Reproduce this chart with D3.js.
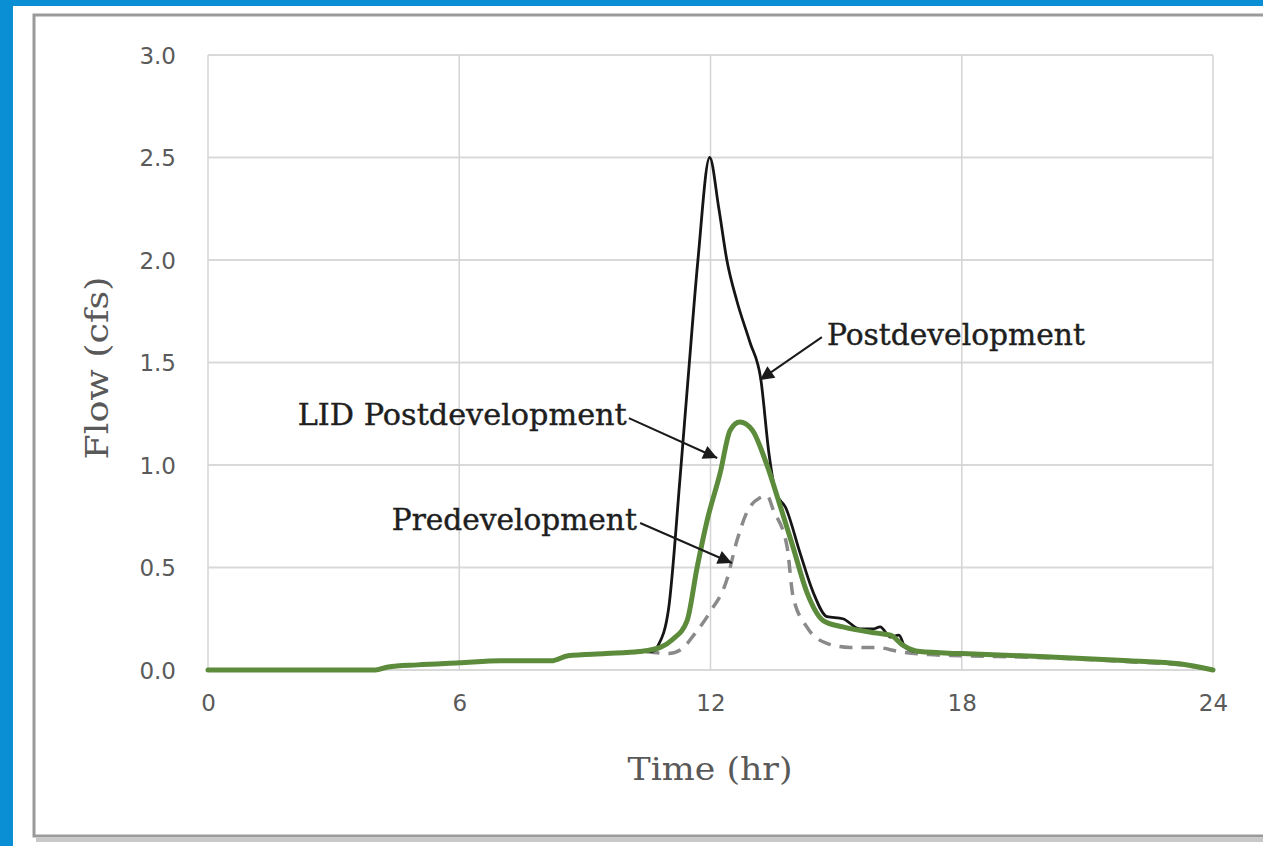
<!DOCTYPE html>
<html>
<head>
<meta charset="utf-8">
<script src="https://cdn.jsdelivr.net/npm/d3@7"></script>
<style>
  html, body { margin: 0; padding: 0; background: #0a8fd5; }
  svg { display: block; }
</style>
</head>
<body>
<svg id="chart" width="1263" height="846"></svg>
<script>
// hydrograph values (hours, cfs)
const baseline = [
  [0, 0.0], [4.0, 0.0], [4.3, 0.015], [5.0, 0.025], [6.0, 0.035], [7.0, 0.045],
  [8.2, 0.045], [8.6, 0.07], [9.5, 0.08], [10.3, 0.09],
];

const postdevelopment = baseline.concat([
  [10.6, 0.09], [10.75, 0.12], [11.0, 0.3], [11.27, 0.93], [11.46, 1.41], [11.7, 2.0],
  [11.98, 2.5], [12.2, 2.25], [12.39, 2.0], [12.63, 1.8], [12.94, 1.6], [13.2, 1.42],
  [13.4, 1.05], [13.55, 0.87], [13.8, 0.79], [14.14, 0.57], [14.45, 0.38], [14.78, 0.26],
  [15.16, 0.25], [15.57, 0.2], [15.88, 0.2], [16.05, 0.21], [16.3, 0.16], [16.5, 0.17],
  [16.65, 0.11], [16.9, 0.09], [18.0, 0.08], [20.0, 0.065], [22.0, 0.045], [23.2, 0.03],
  [24.0, 0.0],
]);

const lidPostdevelopment = baseline.concat([
  [10.8, 0.11], [11.1, 0.15], [11.44, 0.24], [11.68, 0.5], [11.92, 0.73], [12.23, 0.96],
  [12.47, 1.17], [12.7, 1.21], [13.0, 1.17], [13.33, 1.01], [13.65, 0.81], [13.97, 0.6],
  [14.3, 0.38], [14.7, 0.24], [15.16, 0.21], [15.97, 0.18], [16.3, 0.17], [16.6, 0.12],
  [17.0, 0.09], [18.0, 0.08], [20.0, 0.065], [22.0, 0.045], [23.2, 0.03], [24.0, 0.0],
]);

const predevelopment = baseline.concat([
  [11.0, 0.08], [11.3, 0.1], [11.6, 0.17], [11.98, 0.28], [12.39, 0.44], [12.63, 0.63],
  [12.87, 0.77], [13.18, 0.84], [13.35, 0.85], [13.5, 0.78], [13.83, 0.6], [13.97, 0.36],
  [14.3, 0.21], [14.78, 0.13], [15.33, 0.11], [15.97, 0.11], [16.5, 0.09], [17.2, 0.075],
  [18.0, 0.07], [20.0, 0.06], [22.0, 0.04], [23.2, 0.025], [24.0, 0.0],
]);

const xTicks = [0, 6, 12, 18, 24];
const yTicks = [0, 0.5, 1.0, 1.5, 2.0, 2.5, 3.0];

// callouts: label text, where the label sits, where the arrow goes (data units)
const callouts = [
  { text: 'Postdevelopment', anchor: 'start', at: [14.78, 1.585], from: [14.66, 1.624], to: [13.18, 1.415], width: 258 },
  { text: 'LID Postdevelopment', anchor: 'end', at: [10.0, 1.195], from: [10.05, 1.229], to: [12.16, 1.034], width: 329 },
  { text: 'Predevelopment', anchor: 'end', at: [10.24, 0.683], from: [10.32, 0.717], to: [12.51, 0.522], width: 245 },
];

const svg = d3.select('#chart');

// frame: blue page, white card, grey bordered panel
svg.append('rect').attr('width', 1263).attr('height', 846).attr('fill', '#0a8fd5');
svg.append('rect').attr('x', 13).attr('y', 6).attr('width', 1250).attr('height', 840).attr('fill', '#ffffff');
svg.append('rect').attr('x', 36).attr('y', 838).attr('width', 1240).attr('height', 4)
  .attr('fill', '#c8c8c8');
svg.append('rect').attr('x', 34).attr('y', 15).attr('width', 1240).attr('height', 821)
  .attr('fill', '#ffffff').attr('stroke', '#9a9a9a').attr('stroke-width', 3);

const x = d3.scaleLinear().domain([0, 24]).range([208, 1213]);
const y = d3.scaleLinear().domain([0, 3]).range([670, 55]);

const grid = svg.append('g').attr('class', 'grid');
grid.selectAll('line.h')
  .data(yTicks)
  .enter()
  .append('line')
  .attr('class', 'h')
  .attr('x1', x(0)).attr('x2', x(24))
  .attr('y1', d => y(d)).attr('y2', d => y(d))
  .attr('stroke', '#d9d9d9').attr('stroke-width', 2);
grid.selectAll('line.v')
  .data(xTicks)
  .enter()
  .append('line')
  .attr('class', 'v')
  .attr('y1', y(0)).attr('y2', y(3))
  .attr('x1', d => x(d)).attr('x2', d => x(d))
  .attr('stroke', '#d4d4d4').attr('stroke-width', 1.5);

// axes: just the labels, the grid draws the lines
const yAxis = svg.append('g')
  .attr('transform', `translate(${x(0)},0)`)
  .call(d3.axisLeft(y).tickValues(yTicks).tickFormat(d3.format('.1f')).tickSize(0).tickPadding(32));
const xAxis = svg.append('g')
  .attr('transform', `translate(0,${y(0)})`)
  .call(d3.axisBottom(x).tickValues(xTicks).tickSize(0).tickPadding(35));
[yAxis, xAxis].forEach((a) => {
  a.select('.domain').remove();
  a.selectAll('text')
    .attr('fill', '#5a5a5a')
    .style('font-family', '"DejaVu Sans", sans-serif')
    .style('font-size', '23px');
});
yAxis.selectAll('text').attr('dy', '0.36em');
xAxis.selectAll('text').attr('dy', '0.25em');

const line = d3.line()
  .x(d => x(d[0]))
  .y(d => y(d[1]))
  .curve(d3.curveMonotoneX);

const plot = svg.append('g').attr('fill', 'none').attr('stroke-linejoin', 'round').attr('stroke-linecap', 'round');
plot.append('path')
  .datum(predevelopment)
  .attr('d', line)
  .attr('stroke', '#8a8a8a')
  .attr('stroke-width', 3.5)
  .attr('stroke-linecap', 'butt')
  .attr('stroke-dasharray', '13,9');
plot.append('path')
  .datum(postdevelopment)
  .attr('d', line)
  .attr('stroke', '#151515')
  .attr('stroke-width', 2.8);
plot.append('path')
  .datum(lidPostdevelopment)
  .attr('d', line)
  .attr('stroke', '#5b8b3b')
  .attr('stroke-width', 5);

// arrowhead
svg.append('defs').append('marker')
  .attr('id', 'arrow')
  .attr('viewBox', '0 0 10 10')
  .attr('refX', 10).attr('refY', 5)
  .attr('markerUnits', 'userSpaceOnUse')
  .attr('markerWidth', 17).attr('markerHeight', 14)
  .attr('orient', 'auto')
  .append('path')
  .attr('d', 'M0,0 L10,5 L0,10 z')
  .attr('fill', '#1a1a1a');

const notes = svg.append('g');
notes.selectAll('line')
  .data(callouts)
  .enter()
  .append('line')
  .attr('x1', d => x(d.from[0])).attr('y1', d => y(d.from[1]))
  .attr('x2', d => x(d.to[0])).attr('y2', d => y(d.to[1]))
  .attr('stroke', '#1a1a1a').attr('stroke-width', 2)
  .attr('marker-end', 'url(#arrow)');
notes.selectAll('text')
  .data(callouts)
  .enter()
  .append('text')
  .attr('x', d => x(d.at[0])).attr('y', d => y(d.at[1]))
  .attr('text-anchor', d => d.anchor)
  .attr('textLength', d => d.width)
  .attr('lengthAdjust', 'spacingAndGlyphs')
  .attr('fill', '#1e1e1e')
  .attr('stroke', '#1e1e1e').attr('stroke-width', 0.4)
  .style('font-family', '"DejaVu Serif", serif')
  .style('font-size', '29px')
  .text(d => d.text);

// axis titles
svg.append('text')
  .attr('x', 710).attr('y', 780)
  .attr('text-anchor', 'middle')
  .attr('textLength', 165).attr('lengthAdjust', 'spacingAndGlyphs')
  .attr('fill', '#595959')
  .style('font-family', '"DejaVu Serif", serif')
  .style('font-size', '32px')
  .text('Time (hr)');
svg.append('text')
  .attr('transform', 'translate(108,368) rotate(-90)')
  .attr('text-anchor', 'middle')
  .attr('textLength', 183).attr('lengthAdjust', 'spacingAndGlyphs')
  .attr('fill', '#595959')
  .style('font-family', '"DejaVu Serif", serif')
  .style('font-size', '32px')
  .text('Flow (cfs)');
</script>
</body>
</html>
